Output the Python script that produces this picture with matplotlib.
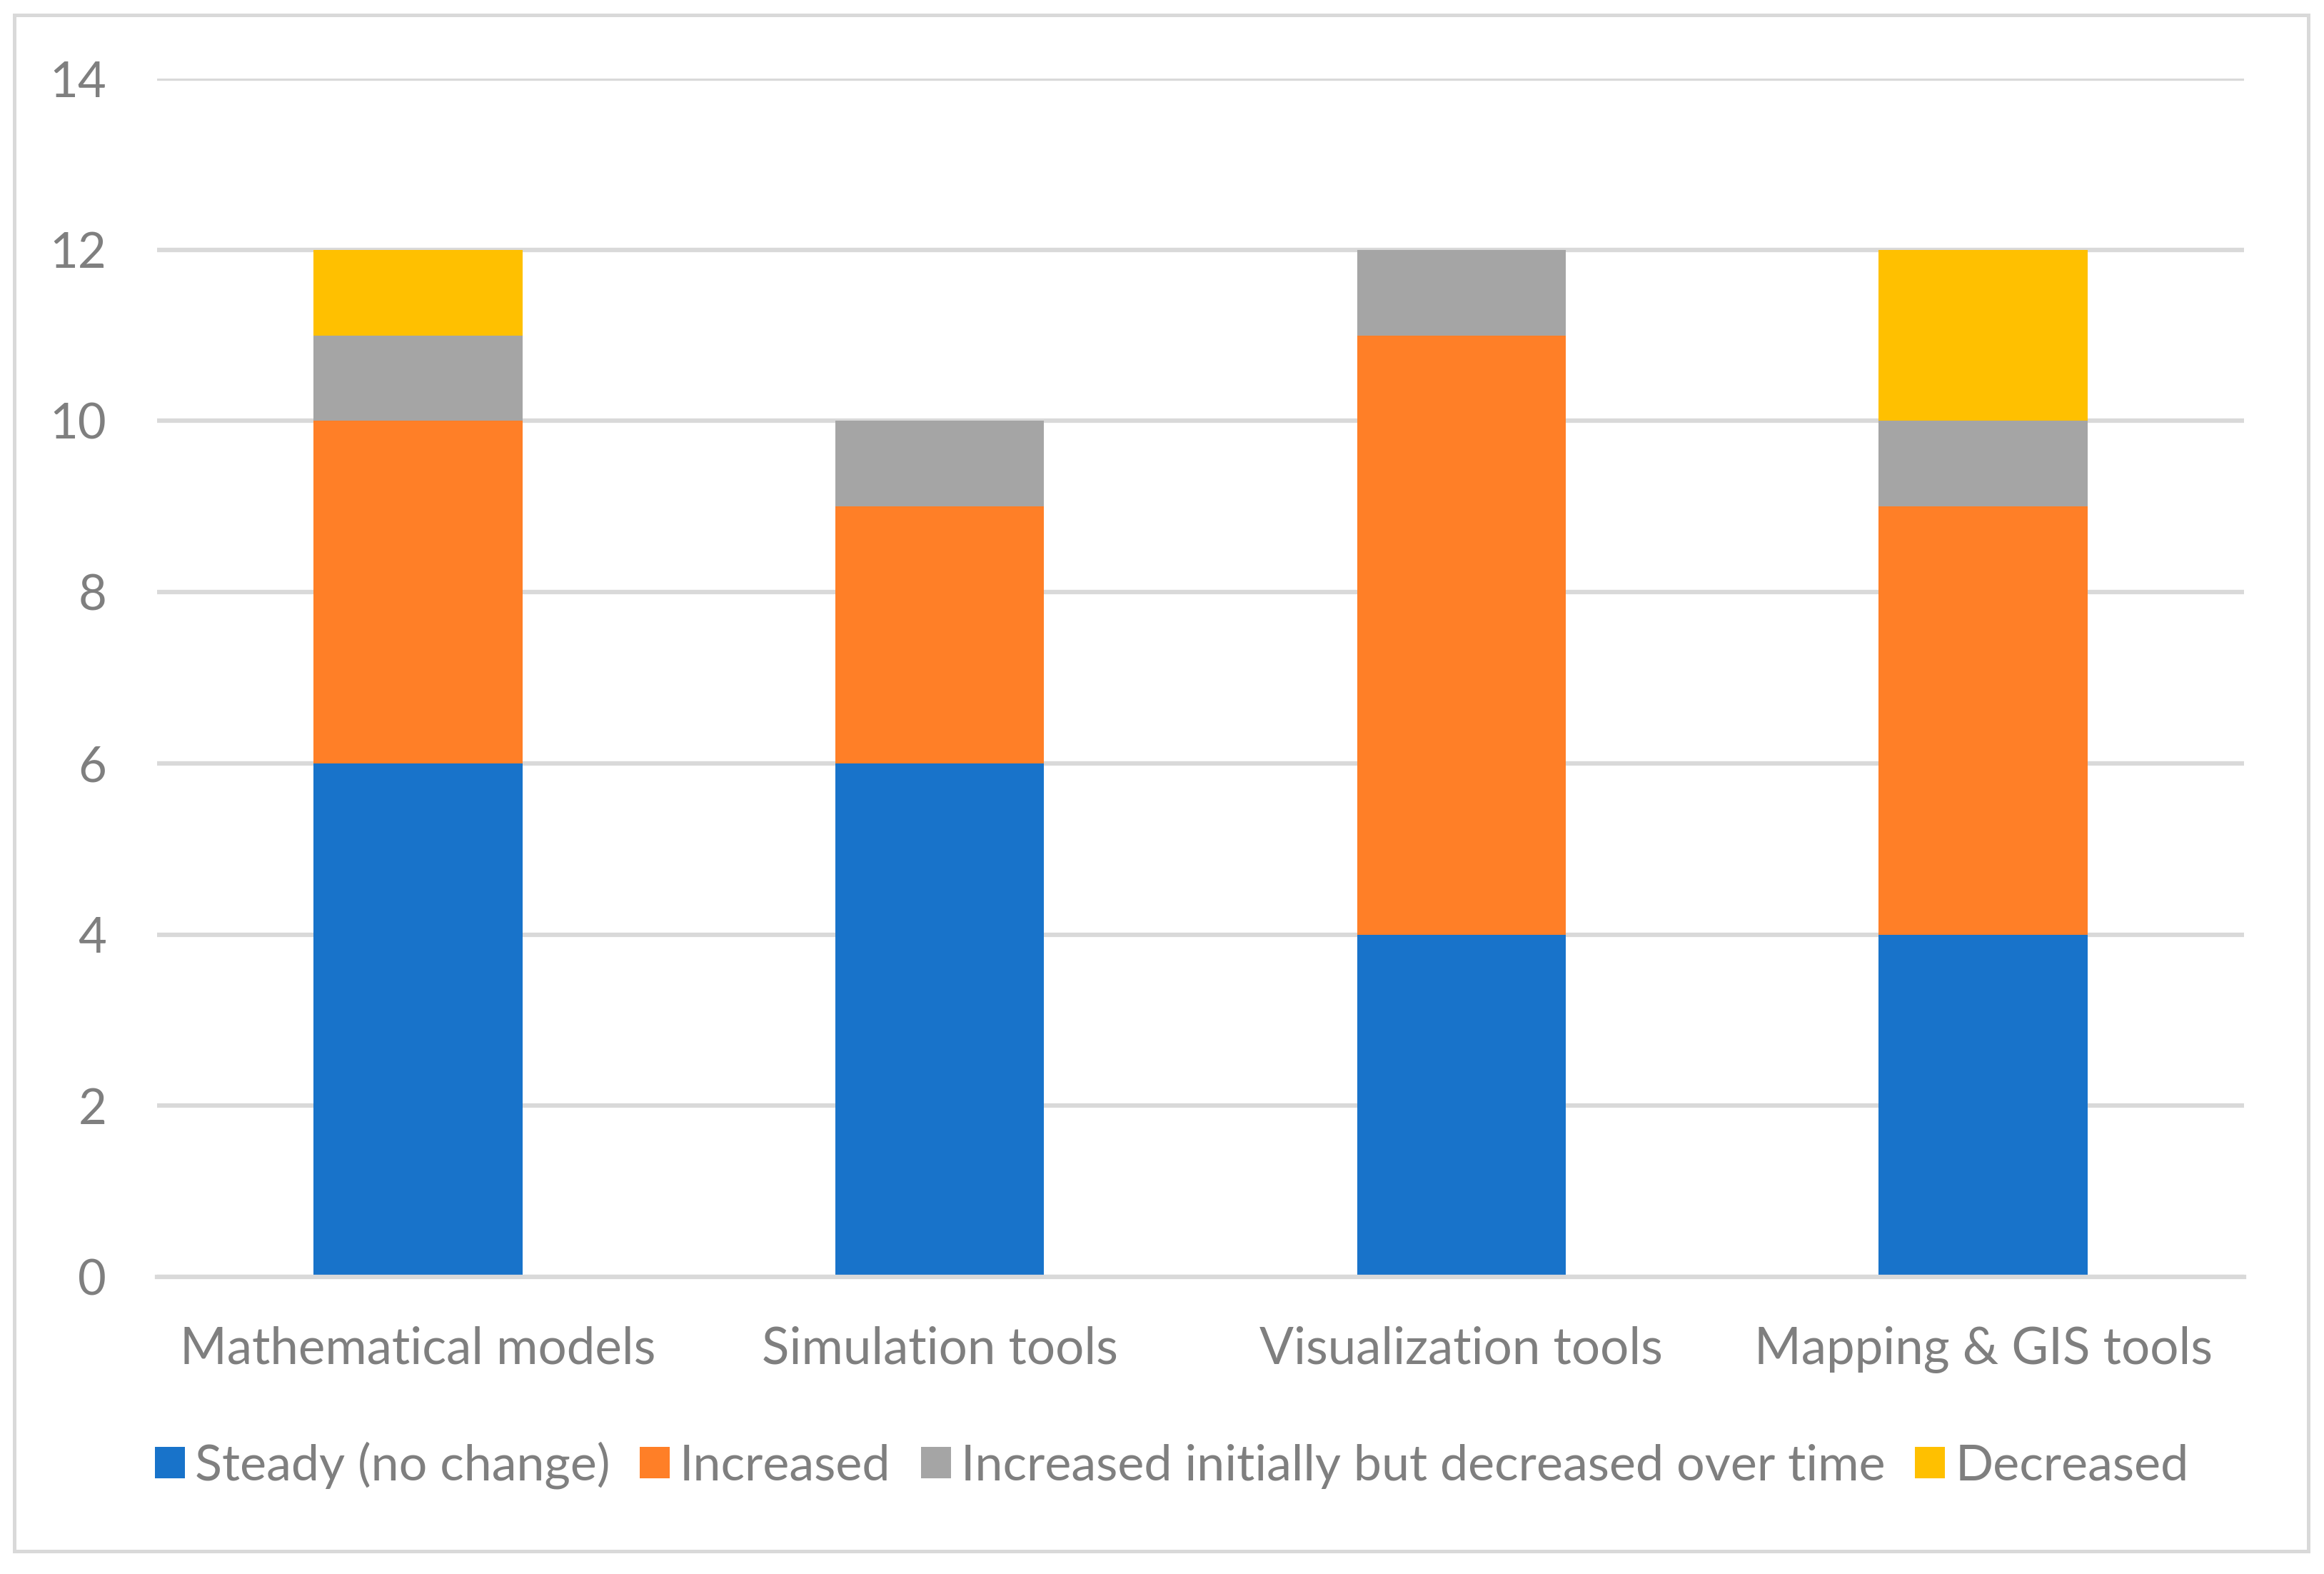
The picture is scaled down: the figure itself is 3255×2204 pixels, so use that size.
import matplotlib
matplotlib.use("Agg")
import matplotlib.pyplot as plt
from matplotlib.patches import Rectangle, Patch
import numpy as np

categories = ["Mathematical models", "Simulation tools", "Visualization tools", "Mapping & GIS tools"]
series_names = ["Steady (no change)", "Increased",
                "Increased initially but decreased over time", "Decreased"]
steady = [6, 6, 4, 4]
increased = [4, 3, 7, 5]
inc_then_dec = [1, 1, 1, 1]
decreased = [1, 0, 0, 2]
series_values = [steady, increased, inc_then_dec, decreased]
colors = ["#1873CA", "#FF7F27", "#A5A5A5", "#FFC000"]
yticks = [0, 2, 4, 6, 8, 10, 12, 14]

plt.rcParams['font.family'] = ['Lato', 'DejaVu Sans']
TXT = "#7F7F7F"
GRID = "#D9D9D9"

W, H, DPI = 3255, 2204, 300
fig = plt.figure(figsize=(W / DPI, H / DPI), dpi=DPI)
fig.patch.set_facecolor("white")

# outer border
fig.patches.append(Rectangle((20 / W, 1 - 2172 / H), (3233 - 20) / W, (2172 - 21) / H,
                             transform=fig.transFigure, fill=False,
                             edgecolor=GRID, linewidth=1.2, zorder=0))

ax = fig.add_axes([220 / W, 1 - 1788 / H, (3143 - 220) / W, (1788 - 110) / H])
x = np.arange(len(categories))
bottom = np.zeros(len(categories))
for name, vals, c in zip(series_names, series_values, colors):
    ax.bar(x, vals, width=0.4, bottom=bottom, color=c, label=name, zorder=2,
           linewidth=0)
    bottom += np.array(vals)

ax.set_xlim(-0.5, len(categories) - 0.5)
ax.set_ylim(0, 14)
ax.set_yticks(yticks)
ax.set_yticklabels([str(v) for v in yticks])
ax.yaxis.grid(True, color=GRID, linewidth=1.5, zorder=1)
ax.set_axisbelow(True)
ax.axhline(0, color=GRID, linewidth=1.5, zorder=3, clip_on=False)
for s in ax.spines.values():
    s.set_visible(False)
ax.tick_params(axis='y', length=0, labelsize=16.5, colors=TXT, pad=17)
ax.tick_params(axis='x', length=0, labelsize=17, colors=TXT, pad=16.5)
ax.set_xticks(x)
ax.set_xticklabels(categories)

handles = [Patch(facecolor=c, edgecolor='none') for c in colors]
leg = fig.legend(handles, series_names, loc='center', bbox_to_anchor=(1641 / W, 1 - 2052 / H),
                 ncol=4, frameon=False, fontsize=16.8, labelcolor=TXT,
                 handlelength=0.6, handleheight=0.6, handletextpad=0.2,
                 columnspacing=0.6, borderpad=0, borderaxespad=0)

fig.savefig("out.png", dpi=DPI, facecolor="white")
